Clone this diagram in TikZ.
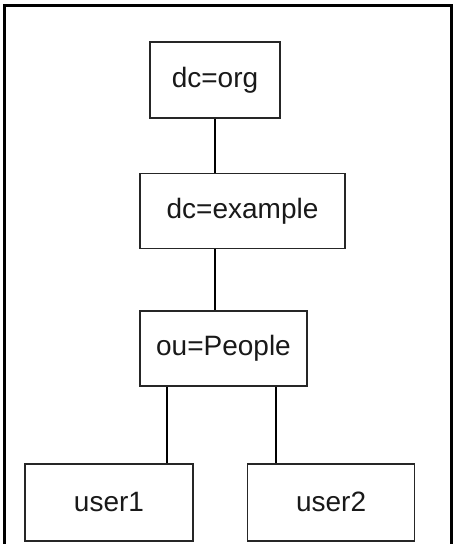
\documentclass[tikz,border=0pt]{standalone}
\usepackage{fontspec}
\setmainfont{Liberation Sans}
\usetikzlibrary{positioning}

\begin{document}
\begin{tikzpicture}[x=0.5pt, y=-0.5pt, thick]
      \tikzstyle{block}=[draw=black!85, rectangle, text=black!90, inner sep=0pt, font=\fontsize{14}{16}\selectfont, minimum height=37.5pt]
      \tikzstyle{frame}=[line width=1.5pt]

      \useasboundingbox (0,0) rectangle (456,544);
      \draw[frame] (4.5,544) -- (4.5,5.5) -- (451,5.5) -- (451,544);

      \node[block, minimum width=65pt, minimum height=38pt] (org) at (215,80) {dc=org};
      \node[block, below=27pt of org, xshift=13.75pt, minimum width=102.5pt] (example) {dc=example};
      \node[block, below=30.5pt of example, xshift=-9.5pt, minimum width=83.5pt] (people) {ou=People};
      \node[block, below=38pt of people, xshift=-57.25pt, minimum width=84pt, minimum height=38.5pt] (user1) {user1};
      \node[block, right=26.5pt of user1, minimum width=83.5pt, minimum height=38.5pt] (user2) {user2};

      \coordinate[xshift=-28.25pt] (p1) at (people.south);
      \coordinate[xshift=26.25pt] (p2) at (people.south);

      \draw (org.south) -- (org.south |- example.north);
      \draw (org.south |- example.south) -- (org.south |- people.north);
      \draw (p1) -- (p1 |- user1.north);
      \draw (p2) -- (p2 |- user2.north);
\end{tikzpicture}
\end{document}
